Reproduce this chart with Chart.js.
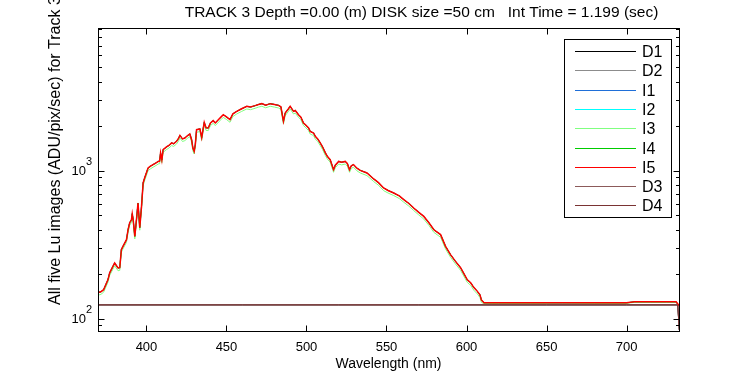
<!DOCTYPE html>
<html>
<head>
<meta charset="utf-8">
<script src="https://cdn.jsdelivr.net/npm/chart.js@4/dist/chart.umd.min.js"></script>
<style>
html,body{margin:0;padding:0;background:#fff;}
#wrap{width:750px;height:375px;position:relative;}
</style>
</head>
<body>
<div id="wrap"><canvas id="c" width="750" height="375"></canvas></div>
<script>
// ---- data ----
const titleText = 'TRACK 3 Depth =0.00 (m) DISK size =50 cm   Int Time = 1.199 (sec)';
const xTitle = 'Wavelength (nm)';
const yTitle = 'All five Lu images (ADU/pix/sec) for Track 3';
const seriesNames = ['D1','D2','I1','I2','I3','I4','I5','D3','D4'];
const seriesColors = ['#000000','#8c8c8c','#1f6fd8','#00ffff','#80ff80','#00cc00','#ff0000','#8c5a5a','#7a3333'];
const xTicks = [400,450,500,550,600,650,700];
const yMajorTicks = [100,1000];
const yMinorTicks = [90,200,300,400,500,600,700,800,900,2000,3000,4000,5000,6000,7000,8000,9000];

// light images (I1, I2, I4, I5 overlap almost perfectly; I3 sits a little lower)
const wavelengthI = [369.5,371.5,373.2,375.9,377.0,380.1,382.2,383.3,384.3,385.3,387.5,388.5,389.5,390.6,391.1,391.7,392.7,393.6,394.7,395.8,396.9,397.9,398.9,401.0,402.5,404.1,406.0,407.3,408.2,408.8,409.6,410.4,412.5,414.0,415.7,417.0,418.8,420.0,420.9,422.5,424.0,425.5,427.1,428.2,429.0,429.8,430.5,431.3,433.4,434.5,436.1,437.2,438.6,440.0,441.7,443.0,444.9,446.5,448.0,450.2,452.2,454.0,456.4,459.5,462.7,465.0,467.9,470.0,472.1,474.5,477.3,480.0,482.5,484.0,485.6,486.7,488.5,489.8,491.9,493.0,495.0,496.5,498.1,499.2,501.3,502.3,504.4,505.5,507.0,508.6,510.0,511.8,513.0,514.8,516.9,518.0,520.1,522.0,524.2,525.5,526.9,528.0,529.4,531.5,533.6,537.8,542.0,545.0,548.2,551.0,554.5,558.0,560.8,564.0,567.0,570.0,573.3,576.5,579.6,583.8,586.9,590.0,593.0,596.3,600.5,602.6,604.5,606.8,608.4,609.3,610.9,620,640,660,680,700,705,715,725,731,733];
const valuesI = [150,152,157,183,204,238,220,221,293,308,342,399,445,466,512,466,360,450,605,412,574,826,897,1043,1072,1099,1130,1155,1160,1318,1180,1387,1446,1480,1539,1520,1578,1650,1732,1640,1663,1720,1770,1620,1420,1350,1500,1892,1914,1670,2120,1950,1943,2100,2177,2100,2211,2300,2389,2300,2211,2420,2516,2620,2720,2690,2749,2800,2836,2770,2836,2800,2762,2700,2153,2454,2600,2720,2516,2550,2389,2300,2101,2050,1943,1843,1798,1705,1640,1539,1450,1318,1250,1187,1016,1090,1155,1140,1155,1120,1016,1080,1099,1040,1005,965,879,830,764,735,707,675,637,600,560,525,491,445,399,370,308,271,245,221,183,175,163,153,145,134,128,128,128,128,128,128,130,130,130,130,122];
const valuesI3 = [144,146,151,176,196,228,211,212,281,296,328,383,427,447,492,447,346,432,581,396,551,793,861,1001,1029,1055,1085,1109,1114,1265,1133,1332,1388,1421,1477,1459,1515,1584,1663,1574,1596,1651,1699,1555,1363,1296,1440,1816,1837,1603,2035,1872,1865,2016,2090,2016,2123,2208,2293,2208,2123,2323,2415,2515,2611,2582,2639,2688,2723,2659,2723,2688,2652,2592,2067,2356,2496,2611,2415,2448,2293,2208,2017,1968,1865,1769,1726,1637,1574,1477,1392,1265,1200,1140,975,1046,1109,1094,1109,1075,975,1037,1055,998,965,926,844,797,733,706,679,648,612,576,538,504,471,427,383,355,296,260,235,212,176,168,156,147,139,129,126,127,127,128,127,127,129,129,129,129,121];

// dark images (D1..D4)
const wavelengthD = [369.5,460,520,570,650,700,732,733];
const valuesD = [124,124,124,124,124,124,124,84];

const seriesX = {D1:wavelengthD,D2:wavelengthD,I1:wavelengthI,I2:wavelengthI,I3:wavelengthI,I4:wavelengthI,I5:wavelengthI,D3:wavelengthD,D4:wavelengthD};
const seriesY = {D1:valuesD,D2:valuesD,I1:valuesI,I2:valuesI,I3:valuesI3,I4:valuesI,I5:valuesI,D3:valuesD,D4:valuesD};

const xMin = 369.7, xMax = 732.8, yMin = 82.6, yMax = 9200;

// ---- chart ----
const datasets = seriesNames.map((n,i)=>({
  label:n,
  data: seriesX[n].map((x,k)=>({x:x,y:seriesY[n][k]})),
  borderColor: seriesColors[i],
  backgroundColor: seriesColors[i],
  borderWidth: n === 'I5' ? 1.5 : 1,
  pointRadius: 0,
  tension: 0,
  order: seriesNames.length - i
}));

const FONT = '"Liberation Sans", Arial, sans-serif';

const frame = {
  id:'frame',
  afterDraw(chart){
    const {ctx, chartArea:a} = chart;
    const xs = chart.scales.x, ys = chart.scales.y;
    const L = Math.round(a.left)+0.5, R = Math.round(a.right)+0.5, T = Math.round(a.top)+0.5, B = Math.round(a.bottom)+0.5;
    ctx.save();
    ctx.strokeStyle = '#000'; ctx.lineWidth = 1;
    ctx.strokeRect(L, T, R-L, B-T);
    ctx.beginPath();
    xTicks.forEach(v=>{
      const px = Math.round(xs.getPixelForValue(v))+0.5;
      ctx.moveTo(px,B); ctx.lineTo(px,B-6);
      ctx.moveTo(px,T); ctx.lineTo(px,T+6);
    });
    yMajorTicks.forEach(v=>{
      const py = Math.round(ys.getPixelForValue(v))+0.5;
      ctx.moveTo(L,py); ctx.lineTo(L+6,py);
      ctx.moveTo(R,py); ctx.lineTo(R-6,py);
    });
    yMinorTicks.forEach(v=>{
      const py = Math.round(ys.getPixelForValue(v))+0.5;
      ctx.moveTo(L,py); ctx.lineTo(L+3.5,py);
      ctx.moveTo(R,py); ctx.lineTo(R-3.5,py);
    });
    ctx.stroke();

    ctx.fillStyle = '#000';
    // x tick labels
    ctx.font = '13px ' + FONT;
    ctx.textAlign = 'center'; ctx.textBaseline = 'middle';
    xTicks.forEach(v=>{ ctx.fillText(String(v), xs.getPixelForValue(v), 347); });
    // y tick labels 10^k
    yMajorTicks.forEach(v=>{
      const py = ys.getPixelForValue(v);
      const e = String(Math.round(Math.log10(v)));
      ctx.font = '13px ' + FONT; ctx.textAlign='right'; ctx.textBaseline='middle';
      ctx.fillText('10', 86, py+1);
      ctx.font = '11px ' + FONT; ctx.textAlign='left';
      ctx.fillText(e, 86, py-9);
    });
    // axis titles
    ctx.font = '14px ' + FONT; ctx.textAlign='center'; ctx.textBaseline='middle';
    ctx.fillText(xTitle, (a.left+a.right)/2, 364);
    ctx.save();
    ctx.font = '16px ' + FONT;
    ctx.translate(56, 305); ctx.rotate(-Math.PI/2);
    ctx.textAlign='left';
    ctx.fillText(yTitle, 0, 0);
    ctx.restore();
    // title
    ctx.font = '15.5px ' + FONT; ctx.textAlign='center'; ctx.textBaseline='middle';
    ctx.fillText(titleText, 421.5, 13);

    // legend box
    const bx=564.5, by=39.5, bw=107, bh=178;
    ctx.fillStyle='#fff'; ctx.fillRect(bx,by,bw,bh);
    ctx.strokeStyle='#000'; ctx.strokeRect(bx,by,bw,bh);
    chart.data.datasets.forEach((d,i)=>{
      const yy = Math.round(51 + i*19.3)+0.5;
      ctx.strokeStyle = d.borderColor; ctx.lineWidth=1;
      ctx.beginPath(); ctx.moveTo(575,yy); ctx.lineTo(636,yy); ctx.stroke();
      ctx.fillStyle='#000'; ctx.font='16px '+FONT; ctx.textAlign='left'; ctx.textBaseline='middle';
      ctx.fillText(d.label, 642, yy+1);
    });
    ctx.restore();
  }
};

new Chart(document.getElementById('c'), {
  type:'line',
  data:{datasets},
  options:{
    responsive:false,
    animation:false,
    events:[],
    layout:{padding:{left:98,top:28,right:71,bottom:44}},
    plugins:{legend:{display:false},title:{display:false},tooltip:{enabled:false}},
    scales:{
      x:{type:'linear',min:xMin,max:xMax,display:false},
      y:{type:'logarithmic',min:yMin,max:yMax,display:false}
    }
  },
  plugins:[frame]
});
</script>
</body>
</html>
